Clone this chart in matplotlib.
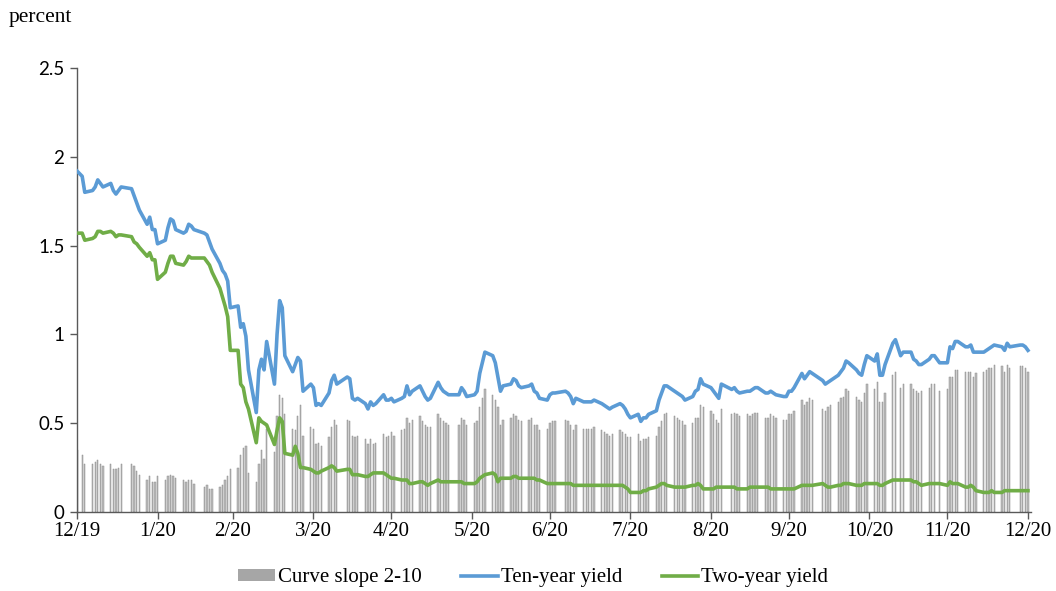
import matplotlib
matplotlib.use("Agg")
import matplotlib.pyplot as plt
from matplotlib.patches import Patch
import numpy as np
import pandas as pd

# trading days shown: 12/31/2019 .. 12/31/2020 (bond-market holidays excluded)
start, end = "2019-12-31", "2020-12-31"
holidays = ["2020-01-01", "2020-01-20", "2020-02-17", "2020-04-10", "2020-05-25",
            "2020-07-03", "2020-09-07", "2020-10-12", "2020-11-11", "2020-11-26",
            "2020-12-25"]

# ten-year yield, percent (one row per month)
ten_year = [
    1.92,
    1.89, 1.80, 1.81, 1.83, 1.87, 1.85, 1.83, 1.85, 1.81, 1.79, 1.81, 1.83, 1.82, 1.78, 1.74, 1.70, 1.62, 1.66, 1.59, 1.59, 1.51,
    1.53, 1.60, 1.65, 1.64, 1.59, 1.57, 1.58, 1.62, 1.61, 1.59, 1.57, 1.56, 1.52, 1.48, 1.40, 1.36, 1.34, 1.30, 1.15,
    1.16, 1.04, 1.06, 0.99, 0.80, 0.56, 0.80, 0.86, 0.80, 0.96, 0.72, 1.00, 1.19, 1.15, 0.88, 0.79, 0.83, 0.87, 0.85, 0.68, 0.72, 0.70,
    0.60, 0.61, 0.60, 0.67, 0.74, 0.77, 0.72, 0.76, 0.75, 0.64, 0.63, 0.64, 0.61, 0.58, 0.62, 0.60, 0.61, 0.66, 0.63, 0.63, 0.64,
    0.62, 0.64, 0.65, 0.71, 0.66, 0.68, 0.71, 0.68, 0.65, 0.63, 0.64, 0.73, 0.70, 0.68, 0.67, 0.66, 0.66, 0.70, 0.68, 0.65,
    0.66, 0.68, 0.78, 0.84, 0.90, 0.88, 0.84, 0.76, 0.68, 0.71, 0.72, 0.75, 0.74, 0.71, 0.70, 0.71, 0.72, 0.68, 0.67, 0.64, 0.63, 0.66,
    0.67, 0.67, 0.68, 0.67, 0.65, 0.61, 0.64, 0.62, 0.62, 0.62, 0.62, 0.63, 0.61, 0.60, 0.59, 0.58, 0.59, 0.61, 0.60, 0.58, 0.55, 0.53,
    0.55, 0.51, 0.53, 0.53, 0.55, 0.57, 0.63, 0.67, 0.71, 0.71, 0.68, 0.67, 0.66, 0.65, 0.63, 0.65, 0.68, 0.69, 0.75, 0.72, 0.70,
    0.68, 0.66, 0.64, 0.72, 0.69, 0.70, 0.68, 0.67, 0.68, 0.68, 0.69, 0.70, 0.70, 0.67, 0.67, 0.68, 0.67, 0.66, 0.65, 0.65, 0.68,
    0.68, 0.70, 0.78, 0.75, 0.77, 0.79, 0.78, 0.74, 0.72, 0.73, 0.74, 0.77, 0.79, 0.81, 0.85, 0.84, 0.80, 0.78, 0.77, 0.83, 0.88,
    0.85, 0.89, 0.77, 0.77, 0.83, 0.95, 0.97, 0.88, 0.90, 0.90, 0.86, 0.85, 0.83, 0.83, 0.86, 0.88, 0.88, 0.84, 0.84,
    0.93, 0.92, 0.96, 0.96, 0.93, 0.93, 0.94, 0.90, 0.90, 0.90, 0.91, 0.92, 0.93, 0.94, 0.93, 0.91, 0.95, 0.93, 0.94, 0.94, 0.93, 0.91,
]

# two-year yield, percent
two_year = [
    1.57,
    1.57, 1.53, 1.54, 1.55, 1.58, 1.58, 1.57, 1.58, 1.57, 1.55, 1.56, 1.56, 1.55, 1.52, 1.51, 1.49, 1.44, 1.46, 1.42, 1.42, 1.31,
    1.35, 1.40, 1.44, 1.44, 1.40, 1.39, 1.41, 1.44, 1.43, 1.43, 1.43, 1.41, 1.39, 1.35, 1.26, 1.21, 1.16, 1.10, 0.91,
    0.91, 0.72, 0.70, 0.62, 0.58, 0.39, 0.53, 0.51, 0.50, 0.49, 0.38, 0.46, 0.53, 0.51, 0.33, 0.32, 0.37, 0.33, 0.25, 0.25, 0.24, 0.23,
    0.22, 0.22, 0.23, 0.25, 0.26, 0.25, 0.23, 0.24, 0.24, 0.21, 0.21, 0.21, 0.20, 0.20, 0.21, 0.22, 0.22, 0.22, 0.21, 0.20, 0.19,
    0.19, 0.18, 0.18, 0.18, 0.16, 0.16, 0.17, 0.17, 0.16, 0.15, 0.16, 0.18, 0.17, 0.17, 0.17, 0.17, 0.17, 0.17, 0.16, 0.16,
    0.16, 0.17, 0.19, 0.20, 0.21, 0.22, 0.21, 0.17, 0.19, 0.19, 0.19, 0.20, 0.20, 0.19, 0.19, 0.19, 0.19, 0.19, 0.18, 0.18, 0.16, 0.16,
    0.16, 0.16, 0.16, 0.16, 0.16, 0.15, 0.15, 0.15, 0.15, 0.15, 0.15, 0.15, 0.15, 0.15, 0.15, 0.15, 0.15, 0.15, 0.15, 0.14, 0.13, 0.11,
    0.11, 0.11, 0.12, 0.12, 0.13, 0.14, 0.15, 0.16, 0.16, 0.15, 0.14, 0.14, 0.14, 0.14, 0.14, 0.15, 0.15, 0.16, 0.15, 0.13, 0.13,
    0.13, 0.14, 0.14, 0.14, 0.14, 0.14, 0.13, 0.13, 0.13, 0.14, 0.14, 0.14, 0.14, 0.14, 0.14, 0.13, 0.13, 0.13, 0.13, 0.13, 0.13,
    0.13, 0.13, 0.15, 0.15, 0.15, 0.15, 0.15, 0.16, 0.15, 0.14, 0.14, 0.15, 0.15, 0.16, 0.16, 0.16, 0.15, 0.15, 0.15, 0.16, 0.16,
    0.16, 0.16, 0.15, 0.15, 0.16, 0.18, 0.18, 0.18, 0.18, 0.18, 0.17, 0.17, 0.16, 0.15, 0.16, 0.16, 0.16, 0.16, 0.15,
    0.17, 0.16, 0.16, 0.16, 0.14, 0.14, 0.15, 0.14, 0.12, 0.11, 0.11, 0.11, 0.12, 0.11, 0.11, 0.12, 0.12, 0.12, 0.12, 0.12, 0.12, 0.12,
]

y_ticks = [0, 0.5, 1, 1.5, 2, 2.5]
y_labels = ["0", "0.5", "1", "1.5", "2", "2.5"]

dates = pd.bdate_range(start, end, freq="C", holidays=holidays)
ten = np.array(ten_year)
two = np.array(two_year)
slope = ten - two  # curve slope 2-10

t0 = pd.Timestamp(start)
x = (dates - t0).days.values
month_ends = pd.date_range(start, end, freq="ME")
tick_x = (month_ends - t0).days.values
tick_lab = [f"{d.month}/{d.strftime('%y')}" for d in month_ends]

serif = "Liberation Serif"
fig = plt.figure(figsize=(10.56, 5.91), dpi=100)
ax = fig.add_axes([0.0729, 0.1337, 0.903, 0.7513])

ax.bar(x, slope, width=0.5, color="#bcbcbc", edgecolor="#8e8e8e",
       linewidth=0.35, zorder=1)
l_ten, = ax.plot(x, ten, color="#5b9bd5", lw=2.6, zorder=3)
l_two, = ax.plot(x, two, color="#70ad47", lw=2.6, zorder=3)

ax.set_xlim(0, 367)
ax.set_ylim(0, 2.5)
ax.set_yticks(y_ticks)
ax.set_yticklabels(y_labels, fontfamily="Lato", fontsize=13.5)
ax.set_xticks(tick_x)
ax.set_xticklabels(tick_lab, fontfamily=serif, fontsize=15)

for s in ["top", "right"]:
    ax.spines[s].set_visible(False)
for s in ["left", "bottom"]:
    ax.spines[s].set_color("#595959")
    ax.spines[s].set_linewidth(1.0)
ax.tick_params(axis="both", direction="out", length=5, width=1,
               color="#595959", labelcolor="#000000")
ax.tick_params(axis="y", pad=4)
ax.tick_params(axis="x", pad=2)

fig.text(0.008, 0.971, "percent", fontfamily=serif, fontsize=15.5,
         va="center", ha="left")

# legend patch for the bars: plain grey block
bar_handle = Patch(facecolor="#a6a6a6", edgecolor="none")
fig.legend([bar_handle, l_ten, l_two],
           ["Curve slope 2-10", "Ten-year yield", "Two-year yield"],
           loc="center", bbox_to_anchor=(0.505, 0.022), ncol=3,
           frameon=False, prop={"family": serif, "size": 15},
           handlelength=1.75, handleheight=0.5, handletextpad=0.15,
           columnspacing=1.9)

fig.savefig("out.png", dpi=100)
